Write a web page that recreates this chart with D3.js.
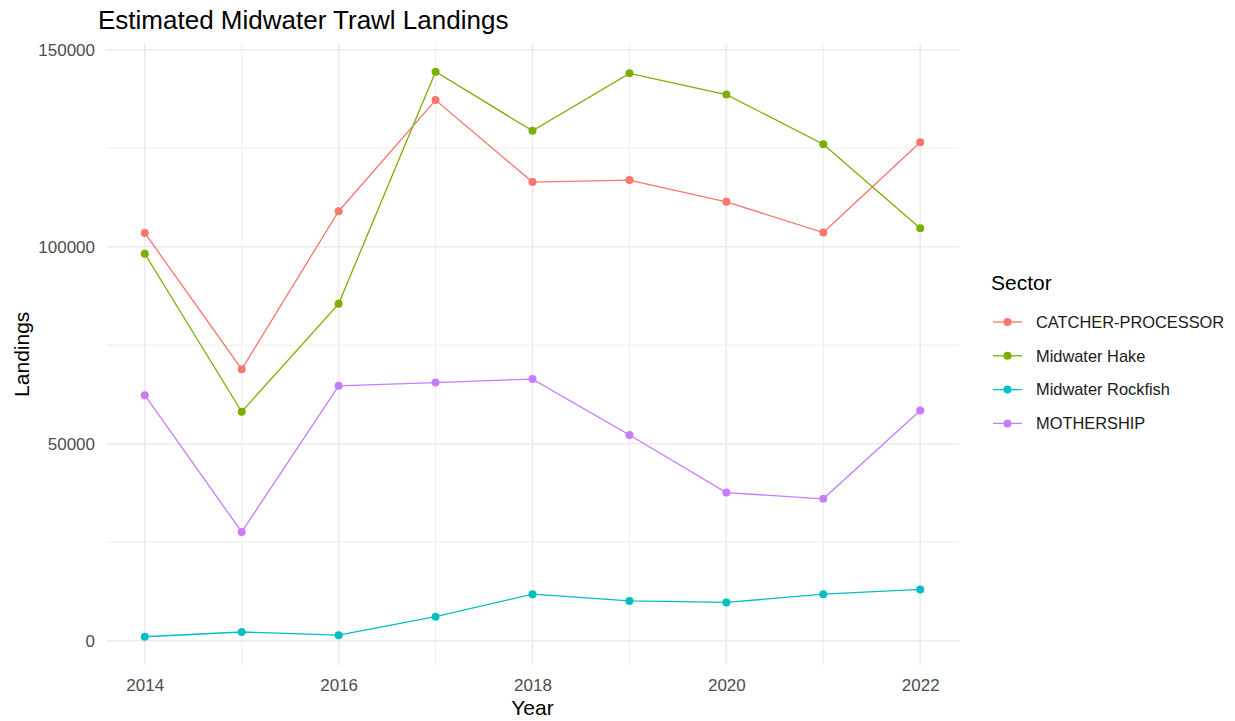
<!DOCTYPE html>
<html>
<head>
<meta charset="utf-8">
<script src="https://cdn.jsdelivr.net/npm/d3@7"></script>
<style>
  html, body { margin: 0; padding: 0; background: #fff; }
  svg { display: block; font-family: "Liberation Sans", Arial, sans-serif; }
</style>
</head>
<body>
<svg id="chart" width="1235" height="721"></svg>
<script>
const years = [2014, 2015, 2016, 2017, 2018, 2019, 2020, 2021, 2022];
const sectors = ["CATCHER-PROCESSOR", "Midwater Hake", "Midwater Rockfish", "MOTHERSHIP"];
const catcherProcessor = [103500, 68900, 109000, 137200, 116400, 116900, 111400, 103600, 126500];
const midwaterHake     = [98200, 58100, 85500, 144400, 129400, 144000, 138600, 126000, 104700];
const midwaterRockfish = [1000, 2200, 1400, 6100, 11800, 10100, 9700, 11800, 13000];
const mothership       = [62300, 27600, 64700, 65500, 66400, 52200, 37600, 36000, 58400];
const seriesValues = [catcherProcessor, midwaterHake, midwaterRockfish, mothership];
const colors = ["#F8766D", "#7CAE00", "#00BFC4", "#C77CFF"];
const yMajorTicks = [0, 50000, 100000, 150000];
const yMinorTicks = [25000, 75000, 125000];
const xMajorTicks = [2014, 2016, 2018, 2020, 2022];
const xMinorTicks = [2015, 2017, 2019, 2021];

const svg = d3.select("#chart");
const panel = { left: 106, right: 959, top: 43.5, bottom: 665 };

// ggplot-like 5% expansion
const xExt = d3.extent(years);
const xPad = (xExt[1] - xExt[0]) * 0.05;
const x = d3.scaleLinear().domain([xExt[0] - xPad, xExt[1] + xPad]).range([panel.left, panel.right]);
const allVals = seriesValues.flat();
const yExt = d3.extent(allVals);
const yPad = (yExt[1] - yExt[0]) * 0.05;
const y = d3.scaleLinear().domain([yExt[0] - yPad, yExt[1] + yPad]).range([panel.bottom, panel.top]);

const grid = svg.append("g");
grid.selectAll("line.ymin").data(yMinorTicks).join("line")
  .attr("x1", panel.left).attr("x2", panel.right)
  .attr("y1", d => y(d)).attr("y2", d => y(d))
  .attr("stroke", "#EBEBEB").attr("stroke-width", 0.9);
grid.selectAll("line.xmin").data(xMinorTicks).join("line")
  .attr("y1", panel.top).attr("y2", panel.bottom)
  .attr("x1", d => x(d)).attr("x2", d => x(d))
  .attr("stroke", "#EBEBEB").attr("stroke-width", 0.9);
grid.selectAll("line.ymaj").data(yMajorTicks).join("line")
  .attr("x1", panel.left).attr("x2", panel.right)
  .attr("y1", d => y(d)).attr("y2", d => y(d))
  .attr("stroke", "#EBEBEB").attr("stroke-width", 1.6);
grid.selectAll("line.xmaj").data(xMajorTicks).join("line")
  .attr("y1", panel.top).attr("y2", panel.bottom)
  .attr("x1", d => x(d)).attr("x2", d => x(d))
  .attr("stroke", "#EBEBEB").attr("stroke-width", 1.6);

const yAxis = svg.append("g").attr("transform", `translate(${panel.left - 11},0)`)
  .call(d3.axisLeft(y).tickValues(yMajorTicks).tickSize(0).tickPadding(0).tickFormat(d3.format("d")));
yAxis.select(".domain").remove();
yAxis.selectAll("text").attr("fill", "#4D4D4D").style("font-size", "17px")
  .style("font-family", "Liberation Sans, Arial, sans-serif");

const xAxis = svg.append("g").attr("transform", `translate(0,${panel.bottom + 13.5})`)
  .call(d3.axisBottom(x).tickValues(xMajorTicks).tickSize(0).tickPadding(0).tickFormat(d3.format("d")));
xAxis.select(".domain").remove();
xAxis.selectAll("text").attr("fill", "#4D4D4D").style("font-size", "17px")
  .style("font-family", "Liberation Sans, Arial, sans-serif");

const line = d3.line().x((d, i) => x(years[i])).y(d => y(d));
const series = svg.append("g");
seriesValues.forEach((vals, k) => {
  series.append("path").attr("d", line(vals)).attr("fill", "none")
    .attr("stroke", colors[k]).attr("stroke-width", 1.3);
  series.selectAll(null).data(vals).join("circle")
    .attr("cx", (d, i) => x(years[i])).attr("cy", d => y(d)).attr("r", 4)
    .attr("fill", colors[k]);
});

svg.append("text").attr("x", 98).attr("y", 29).text("Estimated Midwater Trawl Landings")
  .attr("fill", "#000").style("font-size", "26px");
svg.append("text").attr("x", (panel.left + panel.right) / 2).attr("y", 715)
  .attr("text-anchor", "middle").text("Year").attr("fill", "#000").style("font-size", "21px");
svg.append("text").attr("transform", `translate(29,${(panel.top + panel.bottom) / 2}) rotate(-90)`)
  .attr("text-anchor", "middle").text("Landings").attr("fill", "#000").style("font-size", "21px");

const lg = svg.append("g");
lg.append("text").attr("x", 991).attr("y", 290).text("Sector").attr("fill", "#000").style("font-size", "21px");
sectors.forEach((s, k) => {
  const cy = 322 + k * 33.8;
  lg.append("line").attr("x1", 993).attr("x2", 1022).attr("y1", cy).attr("y2", cy)
    .attr("stroke", colors[k]).attr("stroke-width", 1.3);
  lg.append("circle").attr("cx", 1007.5).attr("cy", cy).attr("r", 4).attr("fill", colors[k]);
  lg.append("text").attr("x", 1036).attr("y", cy + 5.8).text(s).attr("fill", "#1A1A1A").style("font-size", "16.4px");
});
</script>
</body>
</html>
